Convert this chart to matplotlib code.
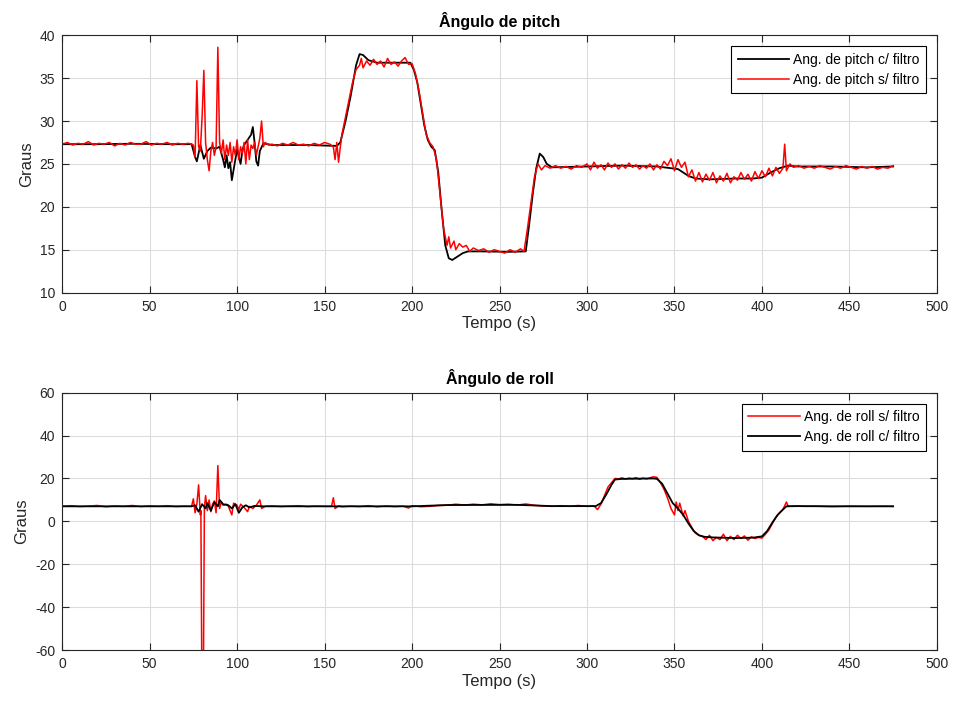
import matplotlib
matplotlib.use("Agg")
import matplotlib.pyplot as plt

plt.rcParams['font.family'] = ['Liberation Sans', 'DejaVu Sans']
plt.rcParams['axes.unicode_minus'] = False

# pitch, sem filtro (red)
pitch_raw_t = [0, 3, 6, 9, 12, 15, 18, 21, 24, 27, 30, 33, 36, 39, 42, 45, 48, 51, 54, 57, 60, 63, 66, 69, 72, 74,
               75, 76, 77, 78, 79, 80, 81, 82, 83, 84, 85, 86, 87, 88, 89, 90, 91, 92, 93, 94, 95, 96, 97, 98, 99,
               100, 101, 102, 103, 104, 105, 106, 107, 108, 109, 110, 111, 112, 113, 114, 115, 116, 118,
               120, 123, 126, 129, 132, 135, 138, 141, 144, 147, 150, 153,
               155, 156, 157, 158, 159, 160, 162, 164, 166, 168, 170, 171, 172, 174, 176, 178, 180, 182, 184, 186,
               188, 190, 192, 194, 196, 198, 200, 202, 204, 206, 208, 210, 212, 214, 216, 218, 220, 221, 222, 224,
               225, 227, 229, 231, 233, 235, 238, 241, 244, 247, 250, 253, 256, 259, 262, 264, 266, 268, 270, 272,
               274, 276, 279, 282, 285, 288, 291, 294, 297, 300, 302, 304, 306, 308, 310, 312, 314, 316, 318, 320,
               322, 324, 326, 328, 330, 332, 334, 336, 338, 340, 342, 344, 346, 348, 350, 352, 354, 356, 358, 360,
               362, 364, 366, 368, 370, 372, 374, 376, 378, 380, 382, 384, 386, 388, 390, 392, 394, 396, 398, 400,
               402, 404, 406, 408, 410, 412, 413, 414, 416, 418, 421, 424, 427, 430, 433, 436, 439, 442, 445, 448,
               451, 454, 457, 460, 463, 466, 469, 472, 475]
pitch_raw = [27.3, 27.5, 27.2, 27.4, 27.3, 27.6, 27.2, 27.4, 27.3, 27.5, 27.1, 27.4, 27.2, 27.5, 27.3, 27.3, 27.6,
             27.2, 27.4, 27.3, 27.5, 27.2, 27.4, 27.3, 27.4, 27.3,
             27.2, 25.8, 34.7, 27.0, 26.5, 30.5, 35.9, 27.5, 25.5, 24.2, 26.5, 27.5, 26.0, 27.0, 38.6, 27.5, 26.2,
             27.8, 25.5, 27.2, 26.0, 27.5, 25.2, 27.0, 26.0,
             27.8, 25.5, 27.0, 26.2, 27.5, 25.0, 27.8, 25.5, 27.2, 26.8, 27.5, 26.0, 27.0, 28.0, 30.0, 27.0, 27.5, 27.2,
             27.3, 27.1, 27.4, 27.2, 27.5, 27.2, 27.3, 27.1, 27.4, 27.2, 27.5, 27.3,
             27.0, 25.5, 27.5, 25.2, 27.0, 28.5, 30.5, 32.5, 34.5, 36.0, 36.5, 37.3, 36.2, 37.0, 36.5, 37.2, 36.6,
             37.0, 36.3, 37.3,
             36.6, 36.9, 36.4, 37.0, 37.4, 36.6, 36.7, 35.5, 33.5, 31.0, 28.5, 27.5, 27.0, 25.5, 21.5, 17.5, 15.5,
             16.5, 15.2, 16.0,
             15.0, 15.7, 15.3, 15.5, 14.8, 15.2, 14.9, 15.1, 14.7, 15.0, 14.8, 14.6, 15.0, 14.7, 15.1, 14.8, 17.5,
             20.5, 23.5, 25.0,
             24.3, 24.8, 24.5, 24.8, 24.5, 24.7, 24.4, 24.8, 24.6, 25.0, 24.3, 25.2, 24.5, 24.9, 24.3, 25.1, 24.6,
             25.0, 24.4, 24.9,
             24.5, 25.1, 24.6, 24.9, 24.4, 24.8, 24.5, 25.0, 24.3, 24.9, 24.4, 25.3, 24.8, 25.6, 24.2, 25.5, 24.6,
             25.2, 23.5, 24.3,
             23.0, 24.0, 22.9, 23.8, 23.1, 24.0, 22.8, 23.6, 23.0, 23.9, 22.8, 23.5, 23.1, 24.0, 23.2, 23.8, 23.0,
             24.1, 23.3, 24.2,
             23.5, 24.5, 23.6, 24.6, 23.9, 24.5, 27.3, 24.2, 25.0, 24.6, 24.8, 24.5, 24.7, 24.5, 24.8, 24.6, 24.4,
             24.7, 24.5, 24.8,
             24.6, 24.4, 24.7, 24.5, 24.7, 24.4, 24.6, 24.5, 24.8]

# pitch, com filtro (black)
pitch_filt_t = [0, 20, 40, 60, 74, 76, 77, 79, 81, 83, 85, 88, 90, 92, 93, 94, 95, 96, 97, 99, 100, 102, 103, 104,
                106, 108, 109, 110, 111, 112, 113, 115, 120, 140, 157, 159, 162, 165, 168, 170, 172, 175, 180, 190,
                199, 201, 203, 205, 207, 209, 211, 213, 215, 217, 219, 221, 223, 226, 229, 232, 240, 255, 265, 267,
                269, 271, 273, 275, 277, 280, 300, 320, 340, 348, 352, 355, 358, 362, 370, 385, 395, 400, 405, 410,
                415, 420, 440, 460, 475]
pitch_filt = [27.3, 27.3, 27.35, 27.3, 27.3, 25.8, 25.3, 27.2, 25.6, 26.5, 26.9, 26.8, 27.0, 25.5, 24.6, 26.0, 24.5,
              25.2, 23.1, 25.5, 26.7, 25.0, 26.5, 27.2, 27.8, 28.4, 29.3, 27.5, 25.3, 24.8, 26.5, 27.4, 27.2, 27.2,
              27.1, 27.5, 30.0, 33.0, 36.5, 37.8, 37.7, 37.1, 36.8, 36.8, 36.8, 36.0, 34.5, 32.0, 29.5, 27.8, 27.0,
              26.6, 24.0, 19.5, 15.5, 14.0, 13.8, 14.2, 14.6, 14.8, 14.8, 14.75, 14.8, 18.0, 21.5, 24.5, 26.2, 25.8,
              25.0, 24.6, 24.7, 24.8, 24.7, 24.5, 24.4, 24.0, 23.6, 23.3, 23.2, 23.3, 23.3, 23.4, 24.0, 24.5, 24.8,
              24.7, 24.7, 24.6, 24.7]

# roll, sem filtro (red)
roll_raw_t = [0, 5, 10, 15, 20, 25, 30, 35, 40, 45, 50, 55, 60, 65, 70, 74, 75, 76, 77, 78, 79, 79.3, 79.8, 80.8,
              81.3, 82, 83, 84, 85, 86, 87, 88, 89, 90, 91, 92, 94, 95, 97, 98, 100, 101, 102, 104, 106, 107, 109,
              111, 113, 114, 116, 120, 125, 130, 135, 140, 145, 150, 154, 155, 156, 158, 160, 165, 170, 175, 180,
              185, 190, 195, 198, 200, 205, 210, 215, 220, 225, 230, 235, 240, 245, 250, 255, 260, 265, 270, 275,
              280, 285, 290, 295, 300, 304, 306, 308, 310, 312, 314, 316, 318, 320, 322, 324, 326, 328, 330, 332,
              334, 336, 338, 340, 342, 344, 346, 348, 350, 351, 352, 353, 355, 356, 358, 360, 362, 364, 366, 368,
              370, 372, 374, 376, 378, 380, 382, 384, 386, 388, 390, 392, 394, 396, 398, 400, 402, 404, 406, 408,
              410, 412, 414, 415, 418, 425, 430, 440, 450, 460, 470, 475]
roll_raw = [7.0, 7.3, 6.9, 7.1, 7.4, 6.8, 7.2, 7.0, 7.4, 6.9, 7.2, 7.0, 7.3, 6.9, 7.1, 7.0, 10.5, 4.0, 8.0, 17.0,
            3.0, 5.0, -65.0, -65.0,
            6.0, 12.0, 5.0, 10.0, 4.5, 8.0, 9.5, 4.0, 26.0, 6.0, 9.0, 7.5, 8.0, 7.0, 3.0, 8.5, 7.5, 5.5, 8.0, 6.5,
            4.5, 7.0, 6.0,
            7.5, 10.0, 6.0, 7.0, 7.2, 6.9, 7.1, 7.3, 6.9, 7.1, 7.0, 7.0, 11.0, 6.0, 7.2, 6.8, 7.1, 6.9, 7.3, 6.8,
            7.2, 6.9, 7.1, 6.2, 7.3, 6.8, 7.0, 7.4, 7.5, 8.0, 7.6, 8.0, 7.7, 8.2, 7.8, 8.0, 7.6, 8.1, 7.5, 7.2,
            7.0, 7.3, 7.0, 7.4, 7.0, 7.2, 5.5, 8.0, 12.0, 16.0, 18.0, 20.0, 19.8, 20.3, 19.7, 20.2, 19.9, 20.4,
            19.6, 20.2,
            19.8, 20.3, 20.8, 20.5, 18.0, 15.0, 11.0, 6.0, 3.0, 9.0, 5.0, 8.5, 2.5, 5.0, 0.0, -3.0, -5.5, -6.5,
            -7.0, -8.5,
            -6.5, -9.0, -7.5, -8.5, -6.0, -9.0, -7.0, -8.5, -6.5, -8.0, -6.8, -8.8, -7.2, -8.0, -7.5, -7.8, -6.0,
            -4.0, -1.0, 2.0,
            4.0, 5.5, 9.0, 7.0, 7.2, 7.0, 7.1, 6.9, 7.1, 7.0, 7.1, 7.0]

# roll, com filtro (black)
roll_filt_t = [0, 74, 76, 78, 80, 82, 83, 85, 87, 89, 90, 92, 95, 97, 99, 101, 103, 105, 107, 110, 115, 200, 220,
               260, 280, 305, 308, 311, 314, 316, 320, 338, 340, 343, 346, 349, 352, 355, 358, 361, 364, 367, 372,
               385, 395, 400, 403, 406, 409, 412, 414, 420, 440, 475]
roll_filt = [7.0, 7.0, 7.5, 4.5, 8.0, 6.0, 8.5, 5.0, 9.0, 7.0, 10.0, 8.0, 7.5, 6.0, 8.0, 4.0, 6.5, 7.5, 6.5, 7.2,
             7.0, 7.0, 7.6, 7.7, 7.1, 7.1, 8.5, 12.5, 17.0, 19.5, 19.8, 20.0, 19.8, 17.5, 13.0, 8.5, 6.0, 3.0, -1.0,
             -4.5, -6.5, -7.2, -7.5, -7.8, -7.6, -7.0, -4.5, -0.5, 3.0, 5.5, 7.0, 7.1, 7.0, 7.0]

x_ticks = [0, 50, 100, 150, 200, 250, 300, 350, 400, 450, 500]
pitch_ticks = [10, 15, 20, 25, 30, 35, 40]
roll_ticks = [-60, -40, -20, 0, 20, 40, 60]

AX_COLOR = '#262626'


def style_axes(ax, yticks):
    ax.set_xlim(0, 500)
    ax.set_ylim(yticks[0], yticks[-1])
    ax.set_xticks(x_ticks)
    ax.set_yticks(yticks)
    ax.grid(True, color='#dcdcdc', linewidth=0.8)
    ax.set_axisbelow(True)
    ax.tick_params(direction='in', top=True, right=True, length=5, width=0.8,
                   labelsize=10, colors=AX_COLOR, pad=5)
    for s in ax.spines.values():
        s.set_color(AX_COLOR)
        s.set_linewidth(0.8)
    ax.set_xlabel('Tempo (s)', fontsize=12, color=AX_COLOR, labelpad=2)
    ax.set_ylabel('Graus', fontsize=12, color=AX_COLOR, labelpad=4)


def add_legend(ax):
    leg = ax.legend(loc='upper right', fontsize=10, fancybox=False, framealpha=1,
                    edgecolor='black', borderaxespad=0.8, handlelength=3.7, handletextpad=0.3,
                    borderpad=0.45, labelspacing=0.45)
    leg.get_frame().set_linewidth(0.8)


fig = plt.figure(figsize=(9.56, 7.05), dpi=100)

ax1 = fig.add_axes([0.065, 0.585, 0.915, 0.365])
ax1.plot(pitch_filt_t, pitch_filt, color='black', linewidth=1.3, label='Ang. de pitch c/ filtro')
ax1.plot(pitch_raw_t, pitch_raw, color='red', linewidth=1.1, label='Ang. de pitch s/ filtro')
style_axes(ax1, pitch_ticks)
ax1.set_title('Ângulo de pitch', fontsize=11.5, fontweight='bold', color='black', pad=6)
add_legend(ax1)

ax2 = fig.add_axes([0.065, 0.078, 0.915, 0.365])
ax2.plot(roll_raw_t, roll_raw, color='red', linewidth=1.1, label='Ang. de roll s/ filtro')
ax2.plot(roll_filt_t, roll_filt, color='black', linewidth=1.3, label='Ang. de roll c/ filtro')
style_axes(ax2, roll_ticks)
ax2.set_title('Ângulo de roll', fontsize=11.5, fontweight='bold', color='black', pad=6)
add_legend(ax2)

fig.savefig('out.png', dpi=100)
